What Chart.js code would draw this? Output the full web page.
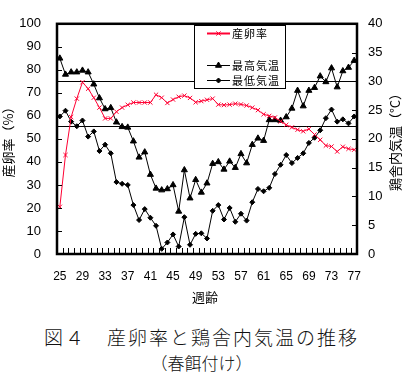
<!DOCTYPE html>
<html>
<head>
<meta charset="utf-8">
<script src="https://cdn.jsdelivr.net/npm/chart.js@4/dist/chart.umd.min.js"></script>
<style>
html, body { margin: 0; padding: 0; background: #fff; }
#wrap { position: relative; width: 403px; height: 387px; overflow: hidden; }
#c { position: absolute; left: 0; top: 0; }
.cap { position: absolute; left: 0; width: 403px; text-align: center; font-family: "Noto Sans CJK JP"; font-weight: 300; color: #111; white-space: nowrap; }
</style>
</head>
<body>
<div id="wrap">
  <canvas id="c" width="403" height="310"></canvas>
  <div class="cap" style="top:325px;font-size:19px;line-height:24px;letter-spacing:2px">図４　産卵率と鶏舎内気温の推移</div>
  <div class="cap" style="top:352px;font-size:17px;line-height:22px">（春餌付け）</div>
</div>
<script>
// weeks of age (週齢)
const weeks = [25,26,27,28,29,30,31,32,33,34,35,36,37,38,39,40,41,42,43,44,45,46,47,48,49,50,
  51,52,53,54,55,56,57,58,59,60,61,62,63,64,65,66,67,68,69,70,71,72,73,74,75,76,77];
const xTickLabels = [25,29,33,37,41,45,49,53,57,61,65,69,73,77];

// 産卵率 (%) - left axis
const layRate = [20.5,43,59.5,67.5,74.6,71.8,67.9,63.6,58.9,58.9,61.8,63.6,64.8,65.8,65.8,65.8,65.8,69.2,67.9,65.6,
  67.1,68.3,68.8,67.8,65.9,66.4,67.0,67.5,64.9,64.7,64.9,65.3,65.0,64.5,63.6,62.5,60.7,60.0,59.3,57.6,
  56.1,55.0,54.0,53.3,54.3,51.9,49.6,47.1,46.7,44.5,46.6,45.7,45.3];
// 最高気温 (°C) - right axis
const maxTemp = [34.0,31.2,31.6,31.6,31.9,31.6,29.5,27.1,25.2,25.4,22.9,22.1,22.0,19.6,16.8,17.7,13.8,11.4,11.1,11.3,
  12.0,7.4,14.6,9.7,12.9,10.7,12.3,15.7,16.0,14.7,16.1,15.0,17.4,15.8,19.0,20.1,19.7,23.3,23.3,23.2,
  23.8,25.3,28.4,25.7,28.4,28.9,30.9,29.9,32.3,29.0,31.8,32.4,33.6];
// 最低気温 (°C) - right axis
const minTemp = [23.9,24.9,23.0,22.2,23.2,20.4,21.3,17.9,19.0,17.5,12.5,12.2,12.0,8.5,5.9,7.8,6.3,4.9,0.9,2.0,
  3.4,1.3,6.4,1.6,3.5,3.6,2.7,7.5,8.5,6.0,8.0,5.6,7.0,5.8,9.0,11.3,10.9,11.5,13.9,15.5,
  17.2,15.8,16.7,17.5,19.3,20.2,21.5,23.6,25.1,23.0,23.4,22.7,23.9];
// reference lines (left axis values)
const refLines = [75, 55.5];

const tickFont = { family: 'Liberation Sans', size: 13 };
const jpFont = '"Noto Sans CJK JP"';

const framePlugin = {
  id: 'frame',
  beforeDatasetsDraw(chart) {
    const { ctx, chartArea: a, scales: { y } } = chart;
    ctx.save();
    ctx.strokeStyle = '#000';
    ctx.lineWidth = 1;
    refLines.forEach(v => {
      const py = Math.round(y.getPixelForValue(v)) + 0.5;
      ctx.beginPath(); ctx.moveTo(a.left, py); ctx.lineTo(a.right, py); ctx.stroke();
    });
    ctx.restore();
  },
  afterDatasetsDraw(chart) {
    const { ctx, chartArea: a, scales: { x, y, y1 } } = chart;
    const seg = (x0, y0, x1, y1_) => { ctx.beginPath(); ctx.moveTo(x0, y0); ctx.lineTo(x1, y1_); ctx.stroke(); };
    ctx.save();
    ctx.strokeStyle = '#000';
    ctx.lineWidth = 1;
    // inward tick marks
    y.ticks.forEach((t, i) => { const py = Math.round(y.getPixelForTick(i)) + 0.5; seg(a.left, py, a.left + 5, py); });
    y1.ticks.forEach((t, i) => { const py = Math.round(y1.getPixelForTick(i)) + 0.5; seg(a.right - 5, py, a.right, py); });
    const half = (x.getPixelForValue(1) - x.getPixelForValue(0)) / 2;
    for (let i = 0; i <= weeks.length; i++) {
      const px = Math.round(x.getPixelForValue(i) - half) + 0.5;
      seg(px, a.bottom, px, a.bottom - 6);
    }
    // frame
    ctx.lineWidth = 2.5;
    ctx.strokeRect(a.left, a.top, a.right - a.left, a.bottom - a.top);

    // legend box
    ctx.lineWidth = 1;
    ctx.fillStyle = '#fff';
    ctx.fillRect(194.5, 25.5, 91, 63);
    ctx.strokeRect(194.5, 25.5, 91, 63);
    const items = [{ ds: 0, y: 33, lw: 2 }, { ds: 1, y: 65, lw: 1 }, { ds: 2, y: 80, lw: 1 }];
    items.forEach(it => {
      const d = chart.data.datasets[it.ds];
      ctx.strokeStyle = d.borderColor;
      ctx.fillStyle = d.pointBackgroundColor;
      ctx.lineWidth = it.lw;
      seg(207, it.y + 0.5, 230, it.y + 0.5);
      ctx.lineWidth = 1;
      Chart.helpers.drawPoint(ctx, { pointStyle: d.pointStyle, radius: d.pointRadius, rotation: 0, borderWidth: 1 }, 218.5, it.y + 0.5);
      ctx.fillStyle = '#000';
      ctx.font = '11px ' + jpFont;
      ctx.letterSpacing = '1px';
      ctx.textAlign = 'left';
      ctx.textBaseline = 'middle';
      ctx.fillText(d.label, 232, it.y + 1);
    });
    ctx.letterSpacing = '0px';

    // axis titles
    ctx.fillStyle = '#000';
    ctx.font = '13px ' + jpFont;
    ctx.textAlign = 'center';
    ctx.textBaseline = 'middle';
    ctx.save(); ctx.translate(8, 139); ctx.rotate(-Math.PI / 2); ctx.fillText('産卵率（%）', 0, 0); ctx.restore();
    ctx.save(); ctx.translate(395, 139); ctx.rotate(-Math.PI / 2); ctx.fillText('鶏舎内気温（°C）', 0, 0); ctx.restore();
    ctx.fillText('週齢', 205, 297);
    ctx.restore();
  }
};

new Chart(document.getElementById('c'), {
  type: 'line',
  data: {
    labels: weeks,
    datasets: [
      { label: '産卵率', data: layRate, yAxisID: 'y', borderColor: '#ff0033', backgroundColor: '#ff0033',
        pointBackgroundColor: '#ff0033', pointBorderColor: '#ff0033', pointStyle: 'crossRot', pointRadius: 3,
        pointBorderWidth: 1, borderWidth: 1, tension: 0 },
      { label: '最高気温', data: maxTemp, yAxisID: 'y1', borderColor: '#000', backgroundColor: '#000',
        pointBackgroundColor: '#000', pointBorderColor: '#000', pointStyle: 'triangle', pointRadius: 3.5,
        pointBorderWidth: 1, borderWidth: 1, tension: 0 },
      { label: '最低気温', data: minTemp, yAxisID: 'y1', borderColor: '#000', backgroundColor: '#000',
        pointBackgroundColor: '#000', pointBorderColor: '#000', pointStyle: 'rectRot', pointRadius: 2.5,
        pointBorderWidth: 1, borderWidth: 1, tension: 0 }
    ]
  },
  options: {
    responsive: false,
    animation: false,
    layout: { padding: { top: 20, left: 0, right: 0, bottom: 0 } },
    plugins: { legend: { display: false }, tooltip: { enabled: false } },
    scales: {
      x: {
        type: 'category', offset: true,
        grid: { display: false, drawTicks: false }, border: { display: false },
        ticks: {
          autoSkip: false, maxRotation: 0, minRotation: 0, padding: 15, color: '#000',
          font: { family: 'Liberation Sans', size: 12 },
          callback: function(v, i) { return xTickLabels.includes(weeks[i]) ? String(weeks[i]) : ''; }
        },
        afterFit(s) { s.height = 56; }
      },
      y: {
        position: 'left', min: 0, max: 100,
        grid: { display: false, drawTicks: false }, border: { display: false },
        ticks: { stepSize: 10, padding: 16, color: '#000', font: tickFont },
        afterFit(s) { s.width = 57; }
      },
      y1: {
        position: 'right', min: 0, max: 40,
        grid: { display: false, drawTicks: false }, border: { display: false },
        ticks: { stepSize: 5, padding: 11, color: '#000', font: tickFont },
        afterFit(s) { s.width = 46; }
      }
    }
  },
  plugins: [framePlugin]
});
</script>
</body>
</html>
